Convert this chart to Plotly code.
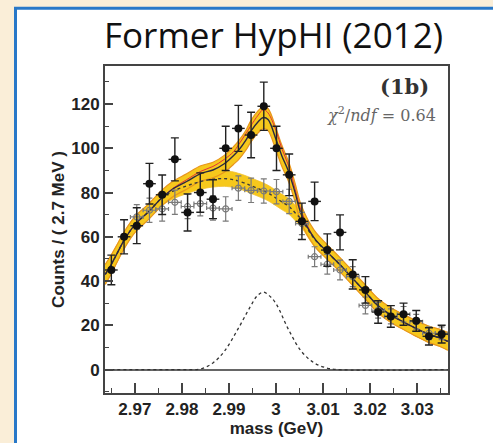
import plotly.graph_objects as go

# ---- measured spectrum (bin width 2.7 MeV) ----
bin_x = [2.9650, 2.9677, 2.9704, 2.9731, 2.9758, 2.9785, 2.9812, 2.9839, 2.9866,
         2.9893, 2.9920, 2.9947, 2.9974, 3.0001, 3.0028, 3.0055, 3.0082, 3.0109,
         3.0136, 3.0163, 3.0190, 3.0217, 3.0244, 3.0271, 3.0298, 3.0325, 3.0352]
counts = [45, 60, 65, 84, 79, 95, 71, 80, 77, 100, 109, 106, 119, 100, 88, 67, 76,
          54, 62, 43, 36, 26, 24, 25, 22, 15, 16]
count_err = [6.7, 7.7, 8.1, 9.2, 8.9, 9.7, 8.4, 8.9, 8.8, 10.0, 10.4, 10.3, 10.9,
             10.0, 9.4, 8.2, 8.7, 7.3, 7.9, 6.6, 6.0, 5.1, 4.9, 5.0, 4.7, 3.9, 4.0]

# ---- comparison spectrum (open markers) ----
open_x = [2.9704, 2.9731, 2.9758, 2.9785, 2.9812, 2.9839, 2.9866, 2.9893, 2.9920,
          2.9947, 2.9974, 3.0001, 3.0028, 3.0055, 3.0082, 3.0109, 3.0136, 3.0163,
          3.0190, 3.0217, 3.0244, 3.0271, 3.0298, 3.0325, 3.0352]
open_counts = [69, 72, 72.6, 75.6, 73.7, 75, 73, 72.6, 82, 81, 80.7, 80.4, 76, 66,
               51, 47.6, 45, 42, 29, 26.8, 24, 25, 21.6, 16.4, 16.4]
open_err = [5.5, 5.5, 5.5, 5.5, 5.5, 5.5, 5.5, 5.5, 5.5, 5.5, 5.5, 5.5, 5.5, 5.0,
            4.5, 4.5, 4.5, 4.5, 3.8, 3.6, 3.4, 3.5, 3.3, 2.9, 2.9]

# ---- fitted curves, sampled along the mass axis ----
curve_x = [2.9637, 2.9650, 2.9661, 2.9676, 2.9700, 2.9730, 2.9757, 2.9780, 2.9810,
           2.9840, 2.9866, 2.9890, 2.9910, 2.9920, 2.9937, 2.9946, 2.9962, 2.9973,
           2.9983, 3.0000, 3.0012, 3.0027, 3.0040, 3.0054, 3.0081, 3.0108, 3.0135,
           3.0163, 3.0190, 3.0216, 3.0244, 3.0270, 3.0297, 3.0324, 3.0352, 3.0365]
total_fit = [43, 47.6, 52, 58, 65.5, 71.5, 77.5, 81.5, 85, 88.6, 90.2, 93, 96.8, 99,
             104, 107.5, 112, 113.9, 113, 104, 96.8, 89.3, 80.4, 70, 59.5, 53.3,
             47.6, 41.2, 35, 29, 24.6, 21.6, 18.6, 16, 14, 12.7]
total_band = [4.5, 4.3, 4.0, 3.8, 3.6, 3.5, 3.5, 3.5, 3.5, 3.5, 3.5, 3.8, 4.0, 4.2,
              4.5, 4.8, 5.0, 5.0, 5.0, 5.0, 4.8, 4.5, 4.2, 4.0, 3.5, 3.3, 3.2, 3.2,
              3.2, 3.2, 3.3, 3.4, 3.5, 3.7, 3.9, 4.0]
alt_fit = [43, 47.6, 52, 58, 65.5, 71.5, 77.5, 81.8, 85.8, 89.6, 91.8, 95, 98.5,
           101.5, 107, 110, 115, 117.5, 116, 108, 100, 92, 82, 71.5, 59.5, 53.3,
           47.6, 41.2, 35, 29, 24.6, 21.6, 18.6, 16, 14, 12.7]
bkg_fit = [43, 47.6, 52, 58, 65.5, 71.5, 77.5, 80.5, 83, 85, 86, 86.3, 85.8, 85.2,
           84, 83.2, 81.8, 80.8, 79.8, 77.5, 75.8, 73.8, 71, 67.8, 59.2, 53.2,
           47.6, 41.2, 35, 29, 24.6, 21.6, 18.6, 16, 14, 12.7]
bkg_band = [4.5, 4.3, 4.0, 3.8, 3.6, 3.5, 3.5, 3.5, 3.5, 3.5, 3.5, 3.5, 3.5, 3.5,
            3.5, 3.5, 3.5, 3.5, 3.5, 3.5, 3.5, 3.5, 3.5, 3.5, 3.5, 3.3, 3.2, 3.2,
            3.2, 3.2, 3.3, 3.4, 3.5, 3.7, 3.9, 4.0]

signal_x = [2.9637, 2.9800, 2.9840, 2.9866, 2.9890, 2.9918, 2.9945, 2.9960, 2.9973,
            2.9986, 3.0000, 3.0027, 3.0054, 3.0081, 3.0108, 3.0130, 3.0365]
signal_fit = [0, 0, 0.3, 3, 8.2, 17.9, 28.3, 33.3, 35, 33.3, 29.8, 17.9, 8.2, 3,
              0.7, 0, 0]

x_ticks = [2.97, 2.98, 2.99, 3.00, 3.01, 3.02, 3.03]
x_tick_text = ["2.97", "2.98", "2.99", "3", "3.01", "3.02", "3.03"]
y_ticks = [0, 20, 40, 60, 80, 100, 120]

YELLOW = "#f6c81c"
ORANGE = "#e8961e"

fig = go.Figure()


def band(xs, mid, half, fill, edge, edge_w):
    upper = [m + h for m, h in zip(mid, half)]
    lower = [m - h for m, h in zip(mid, half)]
    fig.add_trace(go.Scatter(x=xs, y=upper, mode="lines", line=dict(color=edge, width=edge_w, shape="spline"),
                             hoverinfo="skip", showlegend=False))
    fig.add_trace(go.Scatter(x=xs, y=lower, mode="lines", line=dict(color=edge, width=edge_w, shape="spline"),
                             fill="tonexty", fillcolor=fill, hoverinfo="skip", showlegend=False))


# error bands: background-only and total fit
band(curve_x, bkg_fit, bkg_band, YELLOW, "#f2c030", 0.8)
band(curve_x, total_fit, total_band, YELLOW, ORANGE, 1.2)

# alternative fit (red) and central fit lines
fig.add_trace(go.Scatter(x=curve_x, y=alt_fit, mode="lines",
                         line=dict(color="#e0303a", width=1, shape="spline"),
                         hoverinfo="skip", showlegend=False))
fig.add_trace(go.Scatter(x=curve_x, y=bkg_fit, mode="lines",
                         line=dict(color="#3a3a3a", width=1.4, dash="dot", shape="spline"),
                         hoverinfo="skip", showlegend=False))
fig.add_trace(go.Scatter(x=curve_x, y=total_fit, mode="lines",
                         line=dict(color="#2a2a40", width=1.4, shape="spline"),
                         hoverinfo="skip", showlegend=False))

# signal component
fig.add_trace(go.Scatter(x=signal_x, y=signal_fit, mode="lines",
                         line=dict(color="#333333", width=1.3, dash="dot", shape="spline"),
                         hoverinfo="skip", showlegend=False))

# comparison points
fig.add_trace(go.Scatter(
    x=open_x, y=open_counts, mode="markers",
    marker=dict(symbol="circle-open", size=6, color="#7a7a7a", line=dict(width=1.2)),
    error_y=dict(type="data", array=open_err, color="#7a7a7a", thickness=1.2, width=3),
    error_x=dict(type="constant", value=0.00135, color="#7a7a7a", thickness=1.2, width=2),
    showlegend=False))

# measured points
fig.add_trace(go.Scatter(
    x=bin_x, y=counts, mode="markers",
    marker=dict(symbol="circle", size=8, color="#111111"),
    error_y=dict(type="data", array=count_err, color="#222222", thickness=1.4, width=4),
    error_x=dict(type="constant", value=0.00135, color="#222222", thickness=1.4, width=0),
    showlegend=False))

L, R, T, B = 105, 45, 66, 46
W, H = 493, 443
pw, ph = W - L - R, H - T - B


def px_x(p):
    return (p - L) / pw


def px_y(p):
    return (H - B - p) / ph


# slide panel with blue border
fig.add_shape(type="rect", xref="paper", yref="paper",
              x0=px_x(15.5), x1=px_x(520), y0=px_y(470), y1=px_y(7.5),
              line=dict(color="#2878c8", width=3), fillcolor="white", layer="below")

fig.add_annotation(text="Former HypHI (2012)", xref="paper", yref="paper",
                   x=px_x(273), y=px_y(34), xanchor="center", yanchor="middle",
                   showarrow=False, font=dict(family="Open Sans", size=35, color="#111111"))
fig.add_annotation(text="<b>(1b)</b>", xref="paper", yref="paper",
                   x=px_x(431), y=px_y(87), xanchor="right", yanchor="middle",
                   showarrow=False, font=dict(family="DejaVu Serif", size=21, color="#333333"))
fig.add_annotation(text="<i>χ</i><sup>2</sup>/<i>ndf</i> = 0.64", xref="paper", yref="paper",
                   x=px_x(438), y=px_y(115), xanchor="right", yanchor="middle",
                   showarrow=False, font=dict(family="DejaVu Serif", size=16, color="#666666"))

axis_font = dict(family="Liberation Sans", size=17, color="#222222", weight="bold")
tick_font = dict(family="Liberation Sans", size=17, color="#222222", weight="bold")

fig.update_layout(
    width=W, height=H,
    margin=dict(l=L, r=R, t=T, b=B),
    paper_bgcolor="#faeed8",
    plot_bgcolor="white",
    xaxis=dict(range=[2.96365, 3.03655], tickvals=x_ticks, ticktext=x_tick_text,
               ticks="inside", ticklen=10, tickwidth=1.5, tickcolor="#444",
               minor=dict(dtick=0.005, tick0=2.965, ticks="inside", ticklen=5, tickwidth=1.3, tickcolor="#444"),
               showline=True, linecolor="#444", linewidth=2, mirror=True,
               showgrid=False, zeroline=False,
               tickfont=tick_font,
               title=dict(text="mass (GeV)", font=axis_font, standoff=0)),
    yaxis=dict(range=[-10.6, 137.2], tickvals=y_ticks,
               ticks="inside", ticklen=8, tickwidth=1.5, tickcolor="#444",
               minor=dict(dtick=10, tick0=0, ticks="inside", ticklen=4, tickwidth=1.3, tickcolor="#444"),
               showline=True, linecolor="#444", linewidth=2, mirror=True,
               showgrid=False, zeroline=True, zerolinecolor="#666", zerolinewidth=1.5,
               tickfont=tick_font,
               title=dict(text="Counts / ( 2.7 MeV )", font=axis_font, standoff=2)),
)

fig.write_html("out.html")
